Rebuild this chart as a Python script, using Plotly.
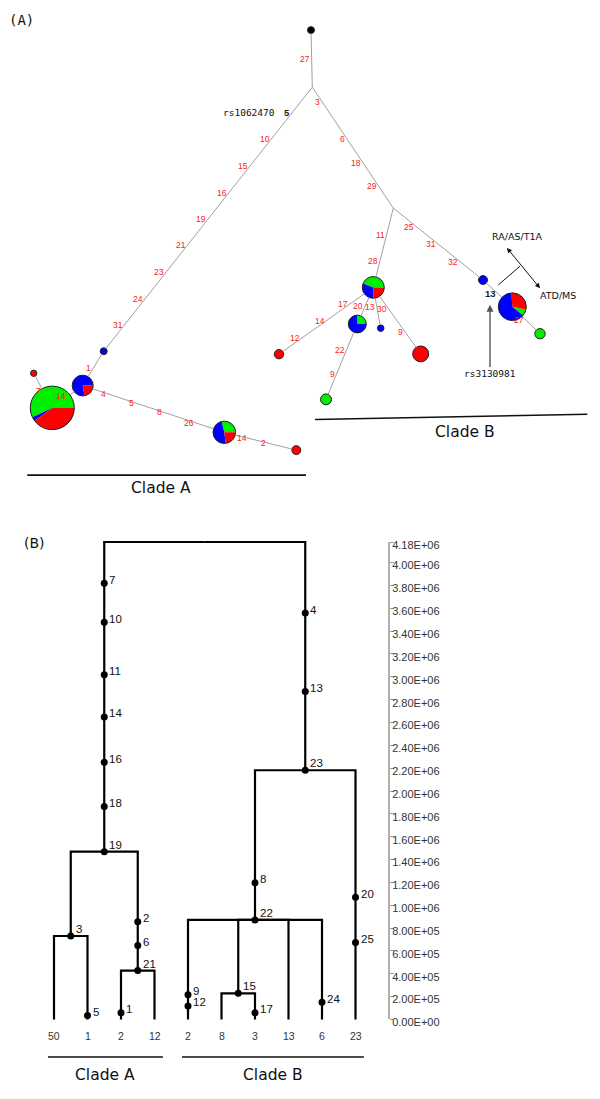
import numpy as np
import plotly.graph_objects as go

# ---------------- panel A: haplotype network ----------------
# node layout (panel A units = screen px, y downwards)
NODE_X = [311.0, 312.3, 103.7, 82.7, 52.3, 33.7, 224.3, 296.3, 393.3,
          373.3, 279.0, 357.3, 326.0, 380.7, 420.7, 483.0, 512.3, 540.0]
NODE_Y = [27.3, 85.0, 352.0, 386.7, 409.3, 374.3, 434.0, 452.0, 207.3,
          287.5, 355.0, 324.5, 400.7, 328.7, 354.7, 280.0, 307.0, 334.3]
NODE_R = [3.5, 0, 3.5, 10.5, 22.0, 3.2, 11.3, 4.5, 0,
          11.0, 4.7, 9.0, 5.5, 3.3, 8.0, 4.5, 14.0, 5.2]
# pie slices, counter-clockwise from NODE_START (degrees)
NODE_COLORS = ["k", "", "b", "br", "gbr", "r", "gbr", "r", "",
               "gbr", "r", "gb", "g", "b", "r", "b", "grb", "g"]
NODE_FRACS = [[1.0], [], [1.0], [0.78, 0.22], [0.57, 0.03, 0.40], [1.0],
              [0.29, 0.48, 0.23], [1.0], [], [0.44, 0.31, 0.25], [1.0],
              [0.25, 0.75], [1.0], [1.0], [1.0], [1.0], [0.08, 0.29, 0.63], [1.0]]
NODE_START = [0, 0, 0, 0, 0, 0, 0, 0, 0, 0, 0, 0, 0, 0, 0, 0, -40, 0]

EDGE_FROM = [0, 1, 2, 3, 4, 3, 6, 1, 8, 9, 9, 11, 9, 9, 8, 15, 16]
EDGE_TO = [1, 2, 3, 4, 5, 6, 7, 8, 9, 10, 11, 12, 13, 14, 15, 16, 17]

# mutation labels: edge index, fraction along edge, text
MUT_EDGE = [0, 1, 1, 1, 1, 1, 1, 1, 1, 2, 3, 4, 5, 5, 5, 5, 6, 6,
            7, 7, 7, 7, 8, 8, 9, 9, 9, 10, 11, 11, 12, 13, 13, 14, 14, 14, 16]
MUT_T = [0.5, 0.195, 0.297, 0.40, 0.501, 0.598, 0.699, 0.801, 0.899, 0.5, 0.47,
         0.5, 0.179, 0.376, 0.574, 0.80, 0.343, 0.607, 0.123, 0.431, 0.627, 0.818,
         0.337, 0.666, 0.249, 0.496, 0.753, 0.52, 0.339, 0.663, 0.49, 0.324, 0.667,
         0.257, 0.495, 0.748, 0.5]
MUT_TEXT = ["27", "10", "15", "16", "19", "21", "23", "24", "31", "1", "14",
            "7", "4", "5", "8", "26", "14", "2", "3", "6", "18", "29",
            "11", "28", "17", "14", "12", "20", "22", "9", "13", "30", "9",
            "25", "31", "32", "27"]

SNP_EDGE = [1, 15]
SNP_T = [0.097, 0.52]
SNP_TEXT = ["5", "13"]

COLOR_MAP = {"r": "#ff0000", "g": "#00ee00", "b": "#0000ff", "k": "#000000"}

# ---------------- panel B: dendrogram ----------------
LEAF_LABELS = ["50", "1", "2", "12", "2", "8", "3", "13", "6", "23"]
# clusters are numbered after the leaves (10, 11, ...)
CLUSTER_HEIGHT = [0.731e6, 0.428e6, 1.469e6, 0.229e6, 0.872e6, 2.182e6, 4.18e6]
CLUSTER_CHILDREN = [[0, 1], [2, 3], [10, 11], [5, 6], [4, 13, 7, 8], [14, 9], [12, 15]]

MUTB_NODE = [12, 12, 12, 12, 12, 12, 12, 10, 1, 11, 11, 11, 2,
             15, 15, 15, 14, 14, 4, 4, 13, 6, 8, 9, 9]
MUTB_HEIGHT = [3.818e6, 3.478e6, 3.019e6, 2.649e6, 2.251e6, 1.865e6, 1.469e6,
               0.731e6, 0.035e6, 0.855e6, 0.647e6, 0.428e6, 0.058e6,
               3.558e6, 2.872e6, 2.182e6, 1.198e6, 0.872e6, 0.216e6, 0.119e6,
               0.229e6, 0.058e6, 0.151e6, 1.071e6, 0.675e6]
MUTB_TEXT = ["7", "10", "11", "14", "16", "18", "19", "3", "5", "2", "6", "21", "1",
             "4", "13", "23", "8", "22", "9", "12", "15", "17", "24", "20", "25"]

TICK_VALS = [0, 2e5, 4e5, 6e5, 8e5, 1.0e6, 1.2e6, 1.4e6, 1.6e6, 1.8e6, 2.0e6,
             2.2e6, 2.4e6, 2.6e6, 2.8e6, 3.0e6, 3.2e6, 3.4e6, 3.6e6, 3.8e6, 4.0e6, 4.18e6]
TICK_TEXT = ["0.00E+00", "2.00E+05", "4.00E+05", "6.00E+05", "8.00E+05",
             "1.00E+06", "1.20E+06", "1.40E+06", "1.60E+06", "1.80E+06",
             "2.00E+06", "2.20E+06", "2.40E+06", "2.60E+06", "2.80E+06",
             "3.00E+06", "3.20E+06", "3.40E+06", "3.60E+06", "3.80E+06",
             "4.00E+06", "4.18E+06"]

SANS = "Liberation Sans, Arial, sans-serif"
DEJAVU = "DejaVu Sans, sans-serif"
MONO = "DejaVu Sans Mono, monospace"

# the page body adds an 8px margin; size the figure so it fits the window
OFF = 8
W, H = 600 - OFF, 1099 - OFF
SPLIT_PX = 500  # screen row where panel B starts


def paper_x(px):
    return (px - OFF) / W


def paper_y(py):
    return (1099 - py) / H


# panel B height scale: screen row of 0 and px per 1e6
B_ZERO_PX, B_PX_PER_M = 1027.7, 115.5
# panel B leaf spacing: screen column of leaf 0 and px per leaf
B_LEAF0_PX, B_LEAF_PX = 54.0, 33.5

fig = go.Figure()
shapes = []
annotations = []

# edges, trimmed at the node circles
ex, ey = [], []
for a, b in zip(EDGE_FROM, EDGE_TO):
    dx, dy = NODE_X[b] - NODE_X[a], NODE_Y[b] - NODE_Y[a]
    d = np.hypot(dx, dy)
    ux, uy = dx / d, dy / d
    ex += [NODE_X[a] + ux * NODE_R[a], NODE_X[b] - ux * NODE_R[b], None]
    ey += [NODE_Y[a] + uy * NODE_R[a], NODE_Y[b] - uy * NODE_R[b], None]
fig.add_trace(go.Scatter(x=ex, y=ey, mode="lines", line=dict(color="#a0a0a0", width=1),
                         hoverinfo="skip", showlegend=False, xaxis="x", yaxis="y"))


def wedge_path(cx, cy, r, a0, a1):
    n = max(int(abs(a1 - a0) / 4) + 2, 3)
    ang = np.radians(np.linspace(a0, a1, n))
    pts = " ".join(f"L {cx + r * np.cos(t):.2f},{cy - r * np.sin(t):.2f}" for t in ang)
    return f"M {cx},{cy} {pts} Z"


for i, cols in enumerate(NODE_COLORS):
    if not cols:
        continue
    cx, cy, r = NODE_X[i], NODE_Y[i], NODE_R[i]
    a = NODE_START[i]
    for c, f in zip(cols, NODE_FRACS[i]):
        a1 = a + 360 * f
        shapes.append(dict(type="path", xref="x", yref="y", path=wedge_path(cx, cy, r, a, a1),
                           fillcolor=COLOR_MAP[c], line=dict(width=0), layer="below"))
        a = a1
    shapes.append(dict(type="circle", xref="x", yref="y", x0=cx - r, x1=cx + r,
                       y0=cy - r, y1=cy + r, line=dict(color="#222222", width=1),
                       layer="below"))


def edge_point(e, t):
    a, b = EDGE_FROM[e], EDGE_TO[e]
    return (NODE_X[a] + t * (NODE_X[b] - NODE_X[a]),
            NODE_Y[a] + t * (NODE_Y[b] - NODE_Y[a]))


for e, t, s in zip(MUT_EDGE, MUT_T, MUT_TEXT):
    x, y = edge_point(e, t)
    annotations.append(dict(x=x, y=y, xref="x", yref="y", text=s, showarrow=False,
                            xanchor="right", font=dict(family=SANS, size=8.5, color="#ff2020")))
for e, t, s in zip(SNP_EDGE, SNP_T, SNP_TEXT):
    x, y = edge_point(e, t)
    annotations.append(dict(x=x, y=y, xref="x", yref="y", text=f"<b>{s}</b>", showarrow=False,
                            xanchor="right", font=dict(family=SANS, size=9.5, color="#222")))

x, y = edge_point(SNP_EDGE[0], SNP_T[0])
annotations.append(dict(x=x, y=y, xref="x", yref="y", text="rs1062470", showarrow=False,
                        xanchor="right", xshift=-15, font=dict(family=MONO, size=9.5, color="#111")))
annotations.append(dict(x=490, y=305, ax=490, ay=375, xref="x", yref="y", axref="x", ayref="y",
                        text="rs3130981", showarrow=True, arrowhead=2, arrowsize=1, arrowwidth=1.4,
                        arrowcolor="#555", font=dict(family=MONO, size=9.5, color="#111")))
annotations.append(dict(x=540, y=288.3, ax=505.7, ay=246, xref="x", yref="y", axref="x", ayref="y",
                        text="", showarrow=True, arrowhead=2, startarrowhead=2, arrowside="end+start",
                        arrowsize=1, arrowwidth=1, arrowcolor="#111"))
shapes.append(dict(type="line", xref="x", yref="y", x0=498.3, y0=285, x1=520, y1=266,
                   line=dict(color="#111", width=1)))
annotations.append(dict(x=517.3, y=235.7, xref="x", yref="y", text="RA/AS/T1A", showarrow=False,
                        font=dict(family=DEJAVU, size=9.5, color="#111")))
annotations.append(dict(x=558.3, y=295.3, xref="x", yref="y", text="ATD/MS", showarrow=False,
                        font=dict(family=DEJAVU, size=9.5, color="#111")))

# clade bars in panel A
shapes.append(dict(type="line", xref="x", yref="y", x0=27.3, y0=477.3, x1=306, y1=477.3,
                   line=dict(color="#111", width=1.6)))
shapes.append(dict(type="line", xref="x", yref="y", x0=315, y0=421, x1=587.3, y1=415.7,
                   line=dict(color="#111", width=1.6)))
annotations.append(dict(x=160.7, y=490, xref="x", yref="y", text="Clade A", showarrow=False,
                        font=dict(family=DEJAVU, size=15.5, color="#111")))
annotations.append(dict(x=465, y=434, xref="x", yref="y", text="Clade B", showarrow=False,
                        font=dict(family=DEJAVU, size=15.5, color="#111")))
annotations.append(dict(x=21.7, y=17.3, xref="x", yref="y", text="(A)", showarrow=False,
                        font=dict(family=MONO, size=14, color="#111")))

# ---------------- panel B drawing ----------------
n_leaf = len(LEAF_LABELS)
node_x = list(range(n_leaf)) + [0.0] * len(CLUSTER_HEIGHT)
node_h = [0.0] * n_leaf + list(CLUSTER_HEIGHT)
for k, ch in enumerate(CLUSTER_CHILDREN):
    xs = [node_x[c] for c in ch]
    node_x[n_leaf + k] = (min(xs) + max(xs)) / 2

lx, ly = [], []
for k, ch in enumerate(CLUSTER_CHILDREN):
    px, ph = node_x[n_leaf + k], CLUSTER_HEIGHT[k]
    for c in ch:
        lx += [px, node_x[c], node_x[c], None]
        ly += [ph, ph, node_h[c], None]
fig.add_trace(go.Scatter(x=lx, y=ly, mode="lines", line=dict(color="#000", width=2.2),
                         hoverinfo="skip", showlegend=False, xaxis="x2", yaxis="y2"))

mx = [node_x[n] for n in MUTB_NODE]
fig.add_trace(go.Scatter(x=mx, y=MUTB_HEIGHT, mode="markers", marker=dict(color="#000", size=7),
                         hoverinfo="skip", showlegend=False, xaxis="x2", yaxis="y2"))
for n, h, s in zip(MUTB_NODE, MUTB_HEIGHT, MUTB_TEXT):
    at_junction = n >= n_leaf and abs(node_h[n] - h) < 1
    annotations.append(dict(x=node_x[n], y=h, xref="x2", yref="y2", text=s, showarrow=False,
                            xanchor="left", xshift=3, yshift=7 if at_junction else 3.5,
                            font=dict(family=SANS, size=11.5, color="#111")))

for i, s in enumerate(LEAF_LABELS):
    annotations.append(dict(x=i, y=0, xref="x2", yref="y2", text=s, showarrow=False,
                            yanchor="top", yshift=-9, font=dict(family=SANS, size=10.5, color="#333")))

CLADE_LEAVES = [[0, 3], [4, 9]]
CLADE_NAMES = ["Clade A", "Clade B"]
for (l0, l1), name in zip(CLADE_LEAVES, CLADE_NAMES):
    x0, x1 = l0 - 0.18, l1 + 0.25
    shapes.append(dict(type="line", xref="x2", yref="y2", x0=x0, x1=x1, y0=-0.329e6, y1=-0.329e6,
                       line=dict(color="#111", width=1.6)))
    annotations.append(dict(x=(x0 + x1) / 2, y=-0.487e6, xref="x2", yref="y2", text=name,
                            showarrow=False, font=dict(family=DEJAVU, size=15.5, color="#111")))
annotations.append(dict(x=paper_x(21.7), y=paper_y(546), xref="paper", yref="paper", text="(B)",
                        showarrow=False, font=dict(family=DEJAVU, size=14, color="#111")))

# scale axis carrier
fig.add_trace(go.Scatter(x=[None], y=[None], xaxis="x2", yaxis="y3", showlegend=False,
                         hoverinfo="skip"))


def b_height(py):
    return (B_ZERO_PX - py) / B_PX_PER_M * 1e6


def b_leaf(px):
    return (px - B_LEAF0_PX) / B_LEAF_PX


split = paper_y(SPLIT_PX)
hidden = dict(visible=False, showgrid=False, zeroline=False, fixedrange=True)
fig.update_layout(
    width=W, height=H, autosize=False,
    margin=dict(l=0, r=0, t=0, b=0),
    paper_bgcolor="white", plot_bgcolor="rgba(0,0,0,0)",
    showlegend=False,
    xaxis=dict(hidden, domain=[0, 1], range=[OFF, 600], anchor="y"),
    yaxis=dict(hidden, domain=[split, 1], range=[SPLIT_PX, OFF], anchor="x"),
    xaxis2=dict(hidden, domain=[0, 1], range=[b_leaf(OFF), b_leaf(600)], anchor="y2"),
    yaxis2=dict(hidden, domain=[0, split], range=[b_height(1099), b_height(SPLIT_PX)], anchor="x2"),
    yaxis3=dict(domain=[paper_y(B_ZERO_PX), paper_y(B_ZERO_PX - 4.18 * B_PX_PER_M)],
                range=[0, 4.18e6],
                anchor="free", position=paper_x(389), side="right", showline=True,
                linecolor="#b0b0b0", linewidth=2, ticks="outside", ticklen=4, tickwidth=1,
                tickcolor="#999", tickvals=TICK_VALS, ticktext=TICK_TEXT, showgrid=False,
                zeroline=False, fixedrange=True, ticklabelstandoff=-4, ticklabelshift=3,
                tickfont=dict(family=SANS, size=11, color="#333")),
    shapes=shapes,
    annotations=annotations,
)

fig.write_html("out.html")
